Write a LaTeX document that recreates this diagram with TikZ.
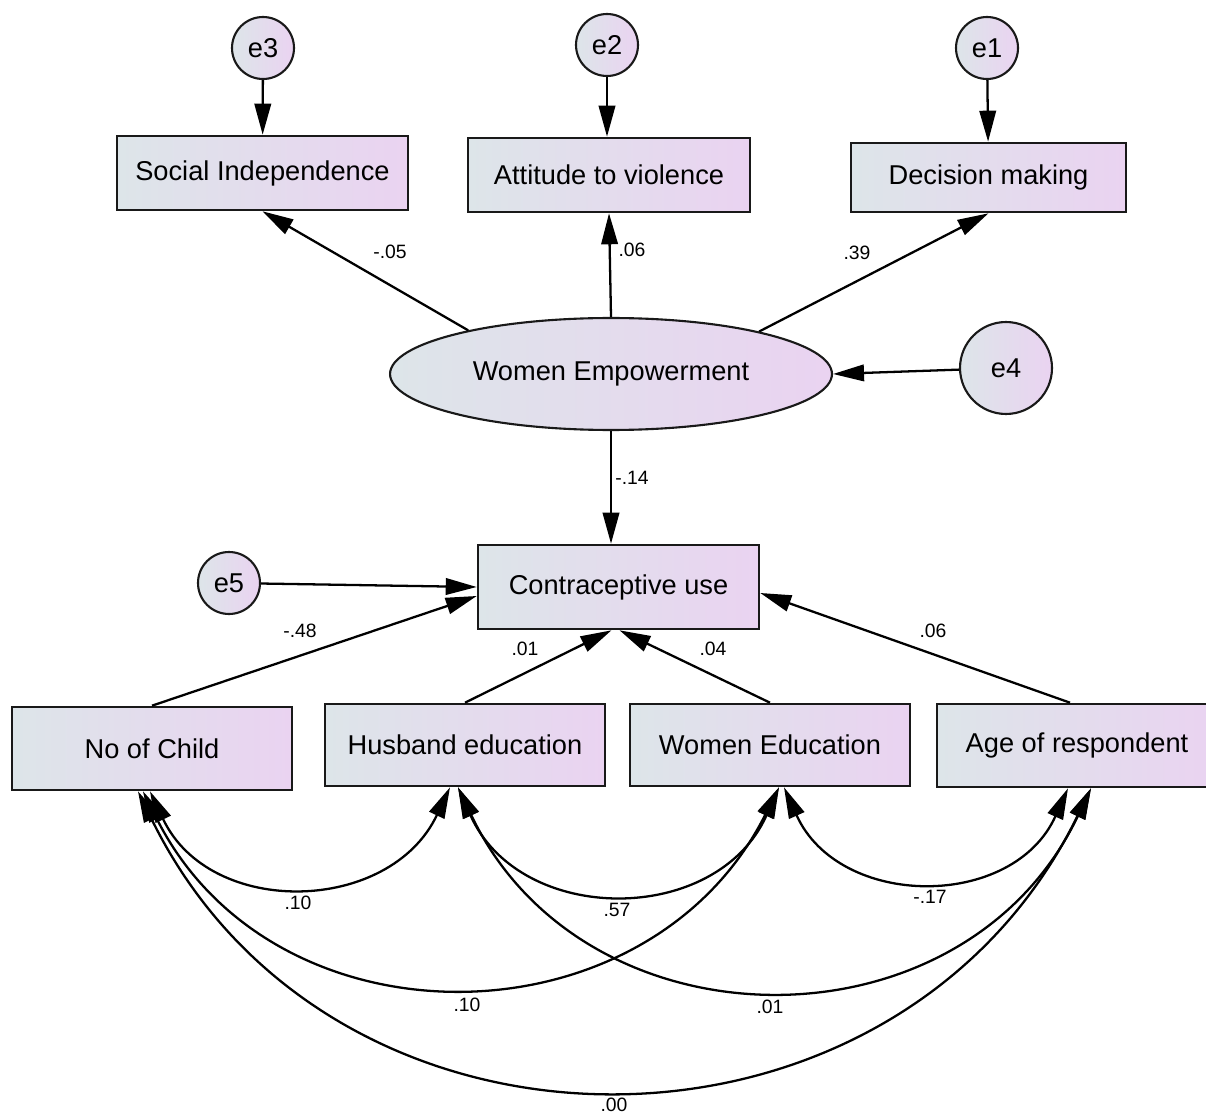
\documentclass[tikz,border=0pt]{standalone}
\usepackage{fontspec}
\setmainfont{Liberation Sans}
\usetikzlibrary{shapes.geometric,arrows.meta,calc}
\definecolor{boxleft}{RGB}{221,229,233}
\definecolor{boxright}{RGB}{234,211,241}

\begin{document}
\begin{tikzpicture}[x=0.02cm,y=-0.02cm,
  obs/.style={draw=black!90,line width=1.5pt,left color=boxleft,right color=boxright,
    minimum width=5.6cm,minimum height=1.64cm,inner sep=0pt,font=\fontsize{15.5}{18}\selectfont},
  err/.style={circle,draw=black!90,line width=1.2pt,left color=boxleft,right color=boxright,
    minimum size=1.24cm,inner sep=0pt,font=\fontsize{15.5}{18}\selectfont},
  reg/.style={line width=1.3pt,-{Triangle[length=0.62cm,width=0.33cm]}},
  cov/.style={line width=1.3pt,{Triangle[length=0.62cm,width=0.33cm]}-{Triangle[length=0.62cm,width=0.33cm]}},
  coef/.style={font=\fontsize{11}{13}\selectfont,inner sep=1pt}]
  \clip (0,0) rectangle (1206,1114);
  \node[err] (e3) at (263,48) {e3};
  \node[err] (e2) at (607,45) {e2};
  \node[err] (e1) at (987,48) {e1};
  \node[obs,minimum width=5.82cm,minimum height=1.48cm] (socind) at (262.5,173) {Social Independence};
  \node[obs,minimum width=5.64cm,minimum height=1.48cm] (attviol) at (609,175) {Attitude to violence};
  \node[obs,minimum width=5.5cm,minimum height=1.38cm] (decmak) at (988.5,177.5) {Decision making};
  \node[obs,ellipse,line width=1.2pt,minimum width=8.84cm,minimum height=2.24cm] (wemp) at (611,374) {Women Empowerment};
  \node[err,minimum size=1.84cm] (e4) at (1006,368) {e4};
  \node[obs,minimum width=5.62cm,minimum height=1.68cm] (contra) at (618.5,587) {Contraceptive use};
  \node[err] (e5) at (229,583) {e5};
  \node[obs,minimum height=1.66cm] (nochild) at (152,748.5) {No of Child};
  \node[obs] (husedu) at (465,745) {Husband education};
  \node[obs] (womedu) at (770,745) {Women Education};
  \node[obs,minimum height=1.66cm] (ageresp) at (1077,745.5) {Age of respondent};

  \draw[reg] (e3) -- (socind);
  \draw[reg] (e2) -- (e2 |- attviol.north);
  \draw[reg] (e1) -- (decmak);
  \draw[reg] (wemp.163) -- (socind.south);
  \draw[reg] (wemp.north) -- (attviol.south);
  \draw[reg] (wemp.16) -- (decmak.south);
  \draw[reg] (e4) -- (wemp.east);
  \draw[reg] (wemp.south) -- (wemp.south |- contra.north);
  \draw[reg] (e5) -- (contra.west);
  \draw[reg] (nochild.north) -- ($(contra.west)+(0,9)$);
  \draw[reg] (husedu.north) -- ($(contra.south)+(-7,0)$);
  \draw[reg] (womedu.north) -- ($(contra.south)+(1,0)$);
  \draw[reg] ($(ageresp.north)+(-7,0)$) -- ($(contra.east)+(0,6)$);

  \draw[cov] ($(nochild.south)+(-2,0)$) .. controls +(60,127) and +(-60,127) .. ($(husedu.south)+(-15,0)$);
  \draw[cov] ($(husedu.south)+(-7,0)$) .. controls +(62,139) and +(-62,139) .. ($(womedu.south)+(9,0)$);
  \draw[cov] ($(womedu.south)+(14,0)$) .. controls +(55,122) and +(-55,122) .. ($(ageresp.south)+(-9,0)$);
  \draw[cov] ($(nochild.south)+(-9,0)$) .. controls +(131,261) and +(-131,261) .. ($(womedu.south)+(9,0)$);
  \draw[cov] ($(husedu.south)+(-7,0)$) .. controls +(127,267) and +(-127,267) .. ($(ageresp.south)+(14,0)$);
  \draw[cov] ($(nochild.south)+(-14,0)$) .. controls +(194,397) and +(-194,397) .. ($(ageresp.south)+(14,0)$);

  \node[coef] (lsoc) at (390,252) {-.05};
  \node[coef] (latt) at (632,250) {.06};
  \node[coef] (ldec) at (857,253) {.39};
  \node[coef] (lcon) at (632,478) {-.14};
  \node[coef] (lchi) at (300,631) {-.48};
  \node[coef] (lhus) at (525,649) {.01};
  \node[coef] (lwom) at (713,649) {.04};
  \node[coef] (lage) at (933,631) {.06};
  \node[coef] (chh) at (298,903) {.10};
  \node[coef] (chw) at (617,910) {.57};
  \node[coef] (cwa) at (930,897) {-.17};
  \node[coef] (ccw) at (467,1005) {.10};
  \node[coef] (cha) at (770,1007) {.01};
  \node[coef] (cca) at (614,1105) {.00};
\end{tikzpicture}
\end{document}
